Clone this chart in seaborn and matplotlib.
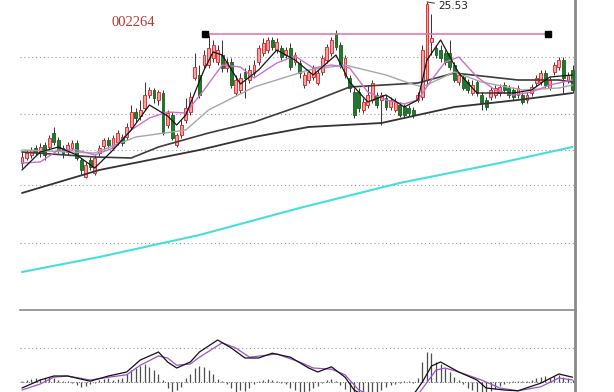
import numpy as np
import pandas as pd
import matplotlib
matplotlib.use("Agg")
import matplotlib.pyplot as plt
import seaborn as sns

# daily candles (price)
opens = [19.08, 19.28, 19.4, 19.68, 19.48, 19.8, 19.72, 20.28, 20.0, 19.68,
         19.52, 19.68, 19.88, 19.2, 18.52, 19.2, 18.68, 19.48, 19.76, 20.0,
         19.68, 19.92, 20.12, 20.12, 20.52, 21.12, 20.96, 21.28, 21.8, 22.0,
         21.6, 21.88, 20.6, 21.0, 19.8, 20.2, 20.8, 21.12, 22.48, 22.6,
         23.0, 23.0, 23.28, 23.12, 23.4, 22.88, 23.12, 21.88, 22.0, 22.72,
         22.4, 22.68, 23.12, 23.48, 23.6, 24.0, 23.6, 23.68, 23.4, 23.68,
         23.12, 23.08, 22.2, 22.4, 22.52, 22.28, 22.72, 23.2, 23.48, 24.28,
         23.8, 22.6, 22.48, 21.92, 21.92, 21.2, 21.4, 21.6, 21.8, 21.6,
         21.68, 21.32, 21.2, 21.4, 21.32, 21.28, 21.2, 21.6, 21.72, 22.4,
         23.92, 23.68, 23.6, 23.48, 23.48, 23.0, 22.32, 22.52, 22.32, 21.88,
         22.32, 21.8, 21.6, 21.72, 21.8, 21.88, 22.2, 22.08, 22.0, 21.8,
         21.8, 21.6, 21.88, 22.28, 22.32, 22.68, 22.08, 22.72, 22.92, 23.2,
         22.4, 22.8]
highs = [19.52, 19.6, 19.72, 19.8, 19.88, 19.92, 20.2, 20.52, 20.12, 19.8,
         19.92, 20.0, 20.0, 19.28, 19.12, 19.32, 19.4, 19.8, 20.08, 20.12,
         20.2, 20.4, 20.24, 20.68, 21.4, 21.28, 21.6, 22.32, 22.12, 22.08,
         22.0, 22.0, 21.2, 21.12, 20.28, 20.8, 21.68, 21.92, 23.48, 23.0,
         23.6, 24.2, 24.0, 23.8, 24.0, 23.28, 23.28, 22.6, 22.68, 22.88,
         23.0, 23.2, 23.8, 24.08, 24.12, 24.12, 24.08, 23.8, 23.72, 23.88,
         23.52, 23.2, 22.72, 22.8, 23.0, 22.8, 23.4, 23.84, 24.12, 24.4,
         23.92, 23.4, 22.6, 22.08, 22.08, 21.68, 22.2, 22.4, 21.92, 21.92,
         21.8, 21.72, 21.68, 21.52, 21.44, 21.4, 21.32, 21.92, 23.8, 25.52,
         25.04, 23.8, 23.8, 23.6, 24.0, 23.12, 22.72, 22.64, 22.44, 22.4,
         22.4, 21.92, 21.72, 22.12, 22.2, 22.24, 22.32, 22.2, 22.12, 22.2,
         21.92, 21.92, 22.24, 22.6, 22.8, 22.8, 22.52, 23.12, 23.32, 23.32,
         22.72, 23.0]
lows = [18.88, 19.2, 19.28, 19.4, 19.32, 19.2, 19.6, 19.8, 19.48, 19.28,
        19.4, 19.6, 19.2, 18.64, 18.48, 18.8, 18.6, 19.36, 19.6, 19.68,
        19.6, 19.8, 19.76, 20.0, 20.4, 20.72, 20.8, 21.2, 21.68, 21.48,
        21.4, 20.2, 20.48, 20.0, 19.72, 20.08, 20.68, 21.0, 22.4, 21.68,
        22.88, 22.88, 23.12, 23.0, 22.72, 22.72, 22.08, 21.76, 21.88, 21.68,
        22.28, 22.56, 23.0, 23.36, 23.48, 23.6, 23.48, 23.2, 23.28, 22.8,
        23.0, 22.48, 22.08, 22.28, 22.4, 22.2, 22.6, 23.08, 23.36, 23.6,
        22.88, 22.48, 21.92, 20.88, 21.12, 21.08, 21.28, 21.48, 21.28, 20.6,
        21.2, 21.2, 21.12, 20.92, 20.88, 20.96, 20.88, 21.52, 21.6, 22.24,
        23.4, 23.28, 23.12, 23.0, 22.8, 22.32, 22.2, 22.0, 21.88, 21.8,
        21.76, 21.2, 21.2, 21.6, 21.68, 21.76, 21.88, 21.68, 21.6, 21.68,
        21.44, 21.48, 21.76, 22.16, 22.2, 22.08, 22.0, 22.6, 22.8, 21.88,
        22.28, 21.88]
closes = [19.32, 19.48, 19.6, 19.52, 19.72, 19.4, 20.08, 19.92, 19.6, 19.48,
          19.8, 19.88, 19.28, 18.8, 19.0, 18.92, 19.28, 19.68, 20.0, 19.8,
          20.08, 20.28, 19.88, 20.52, 21.12, 20.88, 21.2, 21.8, 22.0, 21.68,
          21.92, 20.28, 21.08, 20.08, 20.2, 20.6, 21.28, 21.72, 22.92, 21.8,
          23.4, 23.68, 23.8, 23.6, 22.88, 23.12, 22.2, 22.4, 22.48, 22.48,
          22.8, 23.0, 23.68, 23.88, 24.0, 23.72, 23.92, 23.32, 23.6, 22.92,
          23.4, 22.68, 22.6, 22.72, 22.88, 22.68, 23.28, 23.72, 24.0, 23.72,
          23.0, 23.28, 22.08, 21.0, 21.28, 21.52, 21.8, 22.28, 21.4, 21.8,
          21.32, 21.6, 21.52, 21.0, 21.0, 21.08, 21.0, 21.8, 23.6, 25.44,
          24.08, 23.4, 23.28, 23.12, 22.92, 22.4, 22.6, 22.08, 22.0, 22.2,
          21.88, 21.48, 21.32, 22.0, 22.08, 22.12, 22.0, 21.8, 21.72, 22.08,
          21.52, 21.8, 22.12, 22.48, 22.68, 22.2, 22.4, 23.0, 23.2, 22.48,
          22.6, 22.0]

# moving averages (candle index, price)
ma5_idx = [0, 4, 8, 12, 16, 20, 24, 28, 32, 34, 36, 40, 42, 44, 48, 52, 56, 60, 64,
           69, 72, 76, 80, 84, 87, 89, 92, 96, 100, 104, 108, 112, 116, 121]
ma5_val = [18.8, 19.52, 19.72, 19.4, 18.88, 19.6, 20.4, 21.4, 20.96, 20.6, 21.0, 22.8,
           23.52, 23.4, 22.24, 22.8, 23.6, 23.2, 22.6, 23.4, 22.32, 21.52, 21.8, 21.32,
           21.6, 23.2, 24.0, 22.68, 21.88, 21.88, 21.88, 22.0, 22.52, 22.6]
ma10_idx = [0, 4, 8, 12, 16, 20, 24, 28, 32, 36, 40, 44, 48, 51, 56, 60, 64, 68, 72,
            76, 80, 84, 87, 90, 93, 96, 100, 104, 108, 112, 116, 121]
ma10_val = [19.08, 19.12, 19.6, 19.6, 19.4, 19.68, 20.4, 20.88, 21.12, 21.08, 22.0,
            23.0, 22.92, 22.48, 23.08, 23.36, 22.88, 23.0, 22.88, 21.92, 21.6, 21.44,
            21.6, 22.4, 23.12, 23.32, 22.52, 22.0, 21.8, 21.92, 22.2, 22.4]
ma20_idx = [0, 16, 25, 36, 41, 51, 63, 71, 80, 85, 88, 95, 101, 110, 118, 121]
ma20_val = [19.6, 19.48, 20.12, 20.4, 21.2, 22.12, 22.8, 23.0, 22.6, 22.28, 22.12,
            22.72, 22.32, 22.0, 22.08, 22.2]
ma30_idx = [0, 16, 24, 30, 41, 51, 63, 72, 87, 95, 109, 118, 121]
ma30_val = [19.52, 19.32, 19.28, 19.72, 20.28, 20.72, 21.48, 22.12, 22.28, 22.68,
            22.4, 22.4, 22.32]
ma60_idx = [0, 17, 39, 51, 63, 79, 87, 95, 109, 121]
ma60_val = [17.88, 18.8, 19.6, 20.12, 20.52, 20.68, 21.0, 21.32, 21.6, 21.88]
ma250_idx = [0, 17, 39, 61, 83, 105, 121]
ma250_val = [14.72, 15.32, 16.2, 17.28, 18.28, 19.08, 19.72]

# MACD panel
macd_hist = [0.02, 0.05, 0.08, 0.1, 0.08, 0.1, 0.12, 0.1, 0.05, 0.03,
             0.02, -0.03, -0.08, -0.12, -0.1, -0.05, -0.02, 0.05, 0.08, 0.1,
             0.06, 0.08, 0.1, 0.2, 0.3, 0.35, 0.4, 0.45, 0.38, 0.3,
             0.2, 0.05, -0.15, -0.25, -0.2, -0.12, 0.1, 0.2, 0.35, 0.4,
             0.38, 0.3, 0.2, 0.08, 0.02, -0.05, -0.15, -0.25, -0.2, -0.22,
             -0.15, -0.05, 0.02, 0.05, 0.08, 0.05, 0.02, -0.03, -0.05, -0.15,
             -0.2, -0.25, -0.28, -0.22, -0.15, -0.1, -0.02, 0.05, 0.08, 0.03,
             -0.08, -0.18, -0.28, -0.35, -0.4, -0.4, -0.35, -0.3, -0.25, -0.2,
             -0.12, -0.08, -0.05, -0.02, 0.02, 0.03, -0.02, 0.1, 0.5, 0.75,
             0.72, 0.5, 0.45, 0.35, 0.25, 0.12, 0.05, -0.05, -0.15, -0.2,
             -0.25, -0.3, -0.28, -0.22, -0.18, -0.1, -0.05, -0.03, 0.02, 0.03,
             0.02, 0.03, 0.05, 0.1, 0.12, 0.15, 0.1, 0.15, 0.18, 0.12,
             0.1, 0.05]
dif_idx = [0, 4, 7, 10, 15, 19, 23, 26, 30, 32, 34, 37, 39, 43, 46, 49, 52, 55, 59, 63,
           65, 68, 71, 73, 76, 83, 86, 88, 90, 92, 96, 100, 102, 106, 109, 114, 118, 121]
dif_val = [-0.15, 0.05, 0.15, 0.15, 0.02, 0.15, 0.25, 0.55, 0.75, 0.5, 0.35, 0.5, 0.75,
           1.05, 0.85, 0.6, 0.6, 0.72, 0.62, 0.35, 0.25, 0.38, 0.12, -0.2, -0.4, -0.5,
           -0.32, 0.0, 0.4, 0.5, 0.25, 0.05, -0.15, -0.2, -0.22, -0.03, 0.2, 0.12]
dea_idx = [0, 4, 7, 10, 15, 19, 23, 26, 30, 32, 34, 37, 39, 44, 47, 50, 56, 61, 64, 68,
           71, 74, 79, 87, 91, 93, 96, 101, 105, 109, 114, 118, 121]
dea_val = [-0.2, -0.05, 0.12, 0.15, 0.05, 0.12, 0.18, 0.42, 0.65, 0.6, 0.42, 0.45, 0.62,
           0.98, 0.85, 0.62, 0.7, 0.5, 0.35, 0.32, 0.18, -0.2, -0.45, -0.32, 0.3, 0.35,
           0.25, 0.05, -0.15, -0.22, -0.12, 0.1, 0.05]

grid_prices = [23.32, 21.04, 19.6, 18.2, 15.88]
resist_price = 24.24
resist_start, resist_end = 40.3, 115.6
peak_idx, peak_label = 89, "25.53"
stock_code = "002264"

sns.set_style("white")
plt.rcParams['font.family'] = ['DejaVu Sans']

df = pd.DataFrame({"open": opens, "high": highs, "low": lows, "close": closes})
df["idx"] = np.arange(len(df))
up = df["close"] >= df["open"]

fig = plt.figure(figsize=(6.14, 3.92), dpi=100)
ax = fig.add_axes([20 / 614, 82 / 392, 555 / 614, 310 / 392])
ax2 = fig.add_axes([20 / 614, 0, 555 / 614, 82 / 392])

# grid
for gp in grid_prices:
    ax.axhline(gp, color="#9a9a9a", lw=0.8, ls=(0, (1, 2.5)), zorder=0)

# candles
ax.vlines(df["idx"], df["low"], df["high"], color="#333333", lw=0.7, zorder=2)
body = (df["close"] - df["open"]).abs().clip(lower=0.04)
bottom = df[["open", "close"]].min(axis=1)
ax.bar(df["idx"][up], body[up], bottom=bottom[up], width=0.62,
       color="#f4a3a3", edgecolor="#e03535", lw=0.7, zorder=3)
ax.bar(df["idx"][~up], body[~up], bottom=bottom[~up], width=0.62,
       color="#1f7a2a", edgecolor="#16601f", lw=0.6, zorder=3)

# moving averages
sns.lineplot(x=ma250_idx, y=ma250_val, ax=ax, color="#45dede", lw=1.5, zorder=1)
sns.lineplot(x=ma60_idx, y=ma60_val, ax=ax, color="#333333", lw=1.3, zorder=4)
sns.lineplot(x=ma30_idx, y=ma30_val, ax=ax, color="#3c3c3c", lw=1.2, zorder=4)
sns.lineplot(x=ma20_idx, y=ma20_val, ax=ax, color="#a6a6a6", lw=1.0, zorder=4)
sns.lineplot(x=ma10_idx, y=ma10_val, ax=ax, color="#c970c9", lw=1.0, zorder=4)
sns.lineplot(x=ma5_idx, y=ma5_val, ax=ax, color="#151515", lw=0.9, zorder=5)

# resistance line + markers
ax.hlines(resist_price, resist_start, resist_end, color="#e07aa8", lw=1.2, zorder=5)
ax.plot([resist_start, resist_end], [resist_price, resist_price], ls="none",
        marker="s", ms=4.5, color="black", zorder=6)

ax.annotate(peak_label, xy=(peak_idx, highs[peak_idx]), xytext=(peak_idx + 2.4, 25.36),
            fontsize=7.5, color="#222222", va="center", ha="left",
            arrowprops=dict(arrowstyle="-", color="#333333", lw=0.7, shrinkA=0, shrinkB=0))
ax.text(24.4, 24.68, stock_code, fontsize=10.5, color="#b03a3a",
        family="Liberation Serif", ha="center", va="center")

ax.set_xlim(-0.44, 121.54)
ax.set_ylim(13.2, 25.6)

# MACD
ax2.axhline(0.85, color="#9a9a9a", lw=0.8, ls=(0, (1, 2.5)), zorder=0)
ax2.axhline(0, color="#777777", lw=0.8, ls=(0, (1, 1.5)), zorder=0)
ax2.vlines(df["idx"], 0, macd_hist, color="#4d4d4d", lw=0.9, zorder=2)
sns.lineplot(x=dea_idx, y=dea_val, ax=ax2, color="#9b55c8", lw=0.9, zorder=3)
sns.lineplot(x=dif_idx, y=dif_val, ax=ax2, color="#111111", lw=0.9, zorder=4)
ax2.set_xlim(-0.44, 121.54)
ax2.set_ylim(-0.25, 1.8)

for a in (ax, ax2):
    a.set_xticks([])
    a.set_yticks([])
    a.set_xlabel("")
    a.set_ylabel("")
    for s in ("left", "bottom", "top"):
        a.spines[s].set_visible(False)
    a.spines["right"].set_color("#8a8a8a")
    a.spines["right"].set_linewidth(2)
ax2.spines["top"].set_visible(True)
ax2.spines["top"].set_color("#8a8a8a")
ax2.spines["top"].set_linewidth(1.2)

fig.savefig("out.png", dpi=100, facecolor="white")
